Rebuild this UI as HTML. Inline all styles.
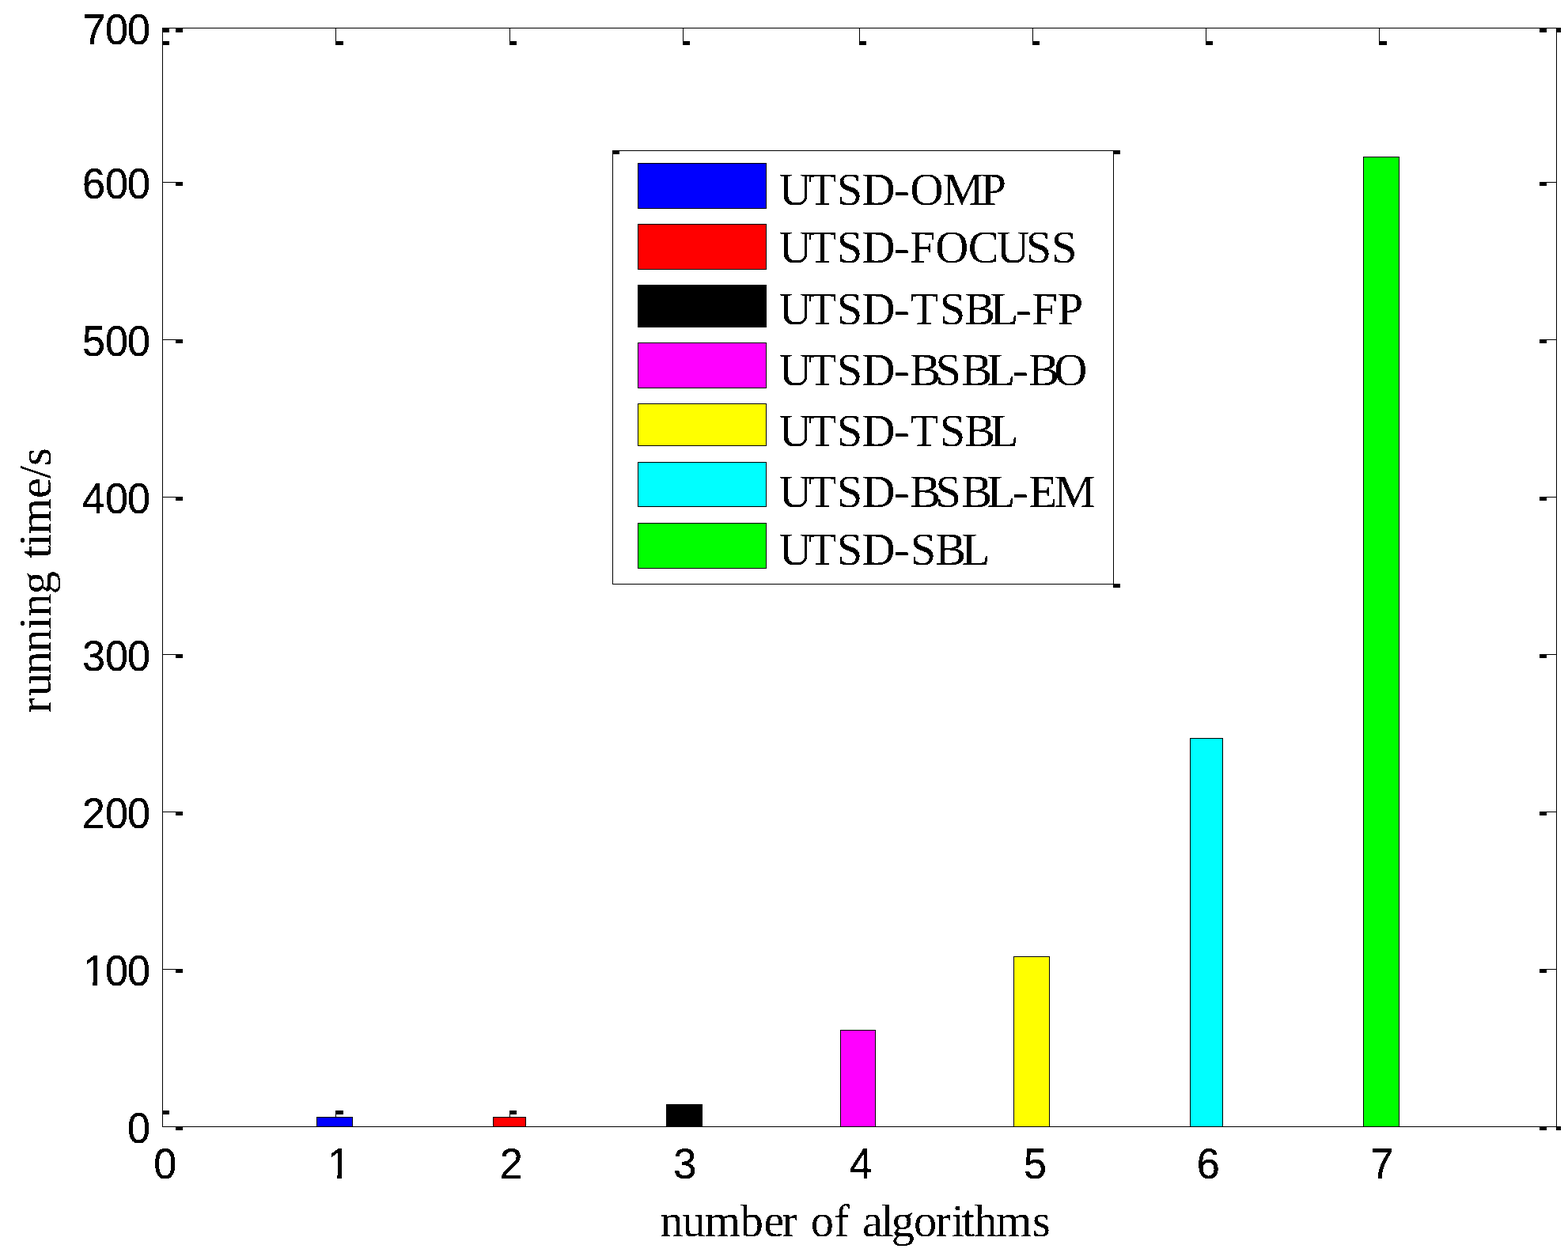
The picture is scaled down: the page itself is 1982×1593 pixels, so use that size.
<!DOCTYPE html>
<html lang="en">
<head>
<meta charset="utf-8">
<title>Running time of UTSD algorithms</title>
<style>
html, body { margin: 0; padding: 0; background: #ffffff; }
body { width: 1982px; height: 1593px; overflow: hidden; }
svg { display: block; }
svg rect { shape-rendering: crispEdges; }
svg text { white-space: pre; text-rendering: geometricPrecision; font-kerning: none; font-variant-ligatures: none; }
svg text.sans { font-family: 'Liberation Sans', Arial, Helvetica, sans-serif; stroke: #000; stroke-width: 0.3px; }
svg text.serif { font-family: 'Liberation Serif', 'Times New Roman', Times, serif; }
</style>
</head>
<body>
<svg width="1982" height="1593" viewBox="0 0 1982 1593" role="img" aria-label="Bar chart: running time in seconds versus number of algorithms">
<defs>
<filter id="crisp" x="0" y="0" width="1982" height="1593" filterUnits="userSpaceOnUse" color-interpolation-filters="sRGB">
<feComponentTransfer><feFuncA type="discrete" tableValues="0 1"/></feComponentTransfer>
</filter>
<clipPath id="clip1" clipPathUnits="userSpaceOnUse"><polygon points="90.00,18.00 200.00,18.00 200.00,56.00 90.00,56.00"/></clipPath>
<clipPath id="clip2" clipPathUnits="userSpaceOnUse"><polygon points="90.00,213.00 200.00,213.00 200.00,251.00 90.00,251.00"/></clipPath>
<clipPath id="clip3" clipPathUnits="userSpaceOnUse"><polygon points="90.00,412.00 200.00,412.00 200.00,450.00 90.00,450.00"/></clipPath>
<clipPath id="clip4" clipPathUnits="userSpaceOnUse"><polygon points="90.00,611.00 200.00,611.00 200.00,649.00 90.00,649.00"/></clipPath>
<clipPath id="clip5" clipPathUnits="userSpaceOnUse"><polygon points="90.00,810.00 200.00,810.00 200.00,848.00 90.00,848.00"/></clipPath>
<clipPath id="clip6" clipPathUnits="userSpaceOnUse"><polygon points="90.00,1009.00 200.00,1009.00 200.00,1047.00 90.00,1047.00"/></clipPath>
<clipPath id="clip7" clipPathUnits="userSpaceOnUse"><polygon points="100.95,1208.00 200.00,1208.00 200.00,1246.00 133.47,1246.00 133.47,1208.01 123.26,1208.01 123.26,1246.00 117.37,1246.00 117.37,1241.56 100.95,1241.56"/></clipPath>
<clipPath id="clip8" clipPathUnits="userSpaceOnUse"><polygon points="90.00,1407.00 200.00,1407.00 200.00,1445.00 90.00,1445.00"/></clipPath>
<clipPath id="clip9" clipPathUnits="userSpaceOnUse"><polygon points="175.00,1452.00 245.00,1452.00 245.00,1490.00 175.00,1490.00"/></clipPath>
<clipPath id="clip10" clipPathUnits="userSpaceOnUse"><polygon points="409.95,1452.00 432.26,1452.00 432.26,1490.00 426.37,1490.00 426.37,1485.56 409.95,1485.56"/></clipPath>
<clipPath id="clip11" clipPathUnits="userSpaceOnUse"><polygon points="614.00,1452.00 684.00,1452.00 684.00,1490.00 614.00,1490.00"/></clipPath>
<clipPath id="clip12" clipPathUnits="userSpaceOnUse"><polygon points="833.00,1452.00 903.00,1452.00 903.00,1490.00 833.00,1490.00"/></clipPath>
<clipPath id="clip13" clipPathUnits="userSpaceOnUse"><polygon points="1056.00,1452.00 1126.00,1452.00 1126.00,1490.00 1056.00,1490.00"/></clipPath>
<clipPath id="clip14" clipPathUnits="userSpaceOnUse"><polygon points="1275.00,1452.00 1345.00,1452.00 1345.00,1490.00 1275.00,1490.00"/></clipPath>
<clipPath id="clip15" clipPathUnits="userSpaceOnUse"><polygon points="1494.00,1452.00 1564.00,1452.00 1564.00,1490.00 1494.00,1490.00"/></clipPath>
<clipPath id="clip16" clipPathUnits="userSpaceOnUse"><polygon points="1713.00,1452.00 1783.00,1452.00 1783.00,1490.00 1713.00,1490.00"/></clipPath>
</defs>
<rect x="0" y="0" width="1982" height="1593" fill="#ffffff"/>
<g id="ticks">
<rect x="424" y="35" width="1" height="17" fill="#000"/>
<rect x="424" y="52" width="10" height="5" fill="#000"/>
<rect x="424" y="1409" width="1" height="16" fill="#000"/>
<rect x="424" y="1404" width="10" height="5" fill="#000"/>
<rect x="644" y="35" width="1" height="17" fill="#000"/>
<rect x="644" y="52" width="9" height="5" fill="#000"/>
<rect x="644" y="1409" width="1" height="16" fill="#000"/>
<rect x="644" y="1404" width="9" height="5" fill="#000"/>
<rect x="863" y="35" width="1" height="17" fill="#000"/>
<rect x="863" y="52" width="9" height="5" fill="#000"/>
<rect x="863" y="1409" width="1" height="16" fill="#000"/>
<rect x="863" y="1404" width="9" height="5" fill="#000"/>
<rect x="1086" y="35" width="1" height="17" fill="#000"/>
<rect x="1086" y="52" width="9" height="5" fill="#000"/>
<rect x="1086" y="1409" width="1" height="16" fill="#000"/>
<rect x="1086" y="1404" width="9" height="5" fill="#000"/>
<rect x="1305" y="35" width="1" height="17" fill="#000"/>
<rect x="1305" y="52" width="9" height="5" fill="#000"/>
<rect x="1305" y="1409" width="1" height="16" fill="#000"/>
<rect x="1305" y="1404" width="9" height="5" fill="#000"/>
<rect x="1524" y="35" width="1" height="17" fill="#000"/>
<rect x="1524" y="52" width="9" height="5" fill="#000"/>
<rect x="1524" y="1409" width="1" height="16" fill="#000"/>
<rect x="1524" y="1404" width="9" height="5" fill="#000"/>
<rect x="1743" y="35" width="1" height="17" fill="#000"/>
<rect x="1743" y="52" width="10" height="5" fill="#000"/>
<rect x="1743" y="1409" width="1" height="16" fill="#000"/>
<rect x="1743" y="1404" width="10" height="5" fill="#000"/>
<rect x="205" y="230" width="17" height="1" fill="#000"/>
<rect x="222" y="230" width="9" height="5" fill="#000"/>
<rect x="1955" y="230" width="13" height="1" fill="#000"/>
<rect x="1946" y="230" width="9" height="5" fill="#000"/>
<rect x="205" y="429" width="17" height="1" fill="#000"/>
<rect x="222" y="429" width="9" height="5" fill="#000"/>
<rect x="1955" y="429" width="13" height="1" fill="#000"/>
<rect x="1946" y="429" width="9" height="5" fill="#000"/>
<rect x="205" y="628" width="17" height="1" fill="#000"/>
<rect x="222" y="628" width="9" height="5" fill="#000"/>
<rect x="1955" y="628" width="13" height="1" fill="#000"/>
<rect x="1946" y="628" width="9" height="5" fill="#000"/>
<rect x="205" y="827" width="17" height="1" fill="#000"/>
<rect x="222" y="827" width="9" height="5" fill="#000"/>
<rect x="1955" y="827" width="13" height="1" fill="#000"/>
<rect x="1946" y="827" width="9" height="5" fill="#000"/>
<rect x="205" y="1026" width="17" height="1" fill="#000"/>
<rect x="222" y="1026" width="9" height="5" fill="#000"/>
<rect x="1955" y="1026" width="13" height="1" fill="#000"/>
<rect x="1946" y="1026" width="9" height="5" fill="#000"/>
<rect x="205" y="1225" width="17" height="1" fill="#000"/>
<rect x="222" y="1225" width="9" height="5" fill="#000"/>
<rect x="1955" y="1225" width="13" height="1" fill="#000"/>
<rect x="1946" y="1225" width="9" height="5" fill="#000"/>
<rect x="205" y="35" width="9" height="6" fill="#000"/>
<rect x="222" y="35" width="9" height="6" fill="#000"/>
<rect x="205" y="52" width="9" height="5" fill="#000"/>
<rect x="1946" y="35" width="9" height="6" fill="#000"/>
<rect x="1967" y="35" width="6" height="6" fill="#000"/>
<rect x="205" y="1404" width="9" height="5" fill="#000"/>
<rect x="222" y="1424" width="9" height="5" fill="#000"/>
<rect x="1946" y="1424" width="9" height="5" fill="#000"/>
<rect x="1967" y="1424" width="6" height="5" fill="#000"/>
</g>
<g id="bars">
<rect x="400" y="1412" width="46" height="13" fill="#000"/>
<rect x="401" y="1413" width="44" height="11" fill="#0000ff"/>
<rect x="623" y="1412" width="42" height="13" fill="#000"/>
<rect x="624" y="1413" width="40" height="11" fill="#ff0000"/>
<rect x="842" y="1396" width="46" height="29" fill="#000"/>
<rect x="843" y="1397" width="44" height="27" fill="#000000"/>
<rect x="1062" y="1302" width="45" height="123" fill="#000"/>
<rect x="1063" y="1303" width="43" height="121" fill="#ff00ff"/>
<rect x="1281" y="1209" width="46" height="216" fill="#000"/>
<rect x="1282" y="1210" width="44" height="214" fill="#ffff00"/>
<rect x="1504" y="933" width="42" height="492" fill="#000"/>
<rect x="1505" y="934" width="40" height="490" fill="#00ffff"/>
<rect x="1723" y="198" width="46" height="1227" fill="#000"/>
<rect x="1724" y="199" width="44" height="1225" fill="#00ff00"/>
</g>
<g id="axes">
<rect x="205" y="35" width="1768" height="1" fill="#000"/>
<rect x="205" y="1424" width="1768" height="1" fill="#000"/>
<rect x="205" y="35" width="1" height="1390" fill="#000"/>
<rect x="1967" y="35" width="1" height="1390" fill="#000"/>
</g>
<g id="legend">
<rect x="774" y="190" width="634" height="549" fill="#fff"/>
<rect x="774" y="190" width="634" height="1" fill="#000"/>
<rect x="774" y="738" width="634" height="1" fill="#000"/>
<rect x="774" y="190" width="1" height="549" fill="#000"/>
<rect x="1407" y="190" width="1" height="549" fill="#000"/>
<rect x="774" y="190" width="9" height="5" fill="#000"/>
<rect x="1407" y="190" width="9" height="5" fill="#000"/>
<rect x="1407" y="738" width="9" height="5" fill="#000"/>
<rect x="806" y="206" width="163" height="58" fill="#000"/>
<rect x="807" y="207" width="161" height="56" fill="#0000ff"/>
<rect x="806" y="283" width="163" height="58" fill="#000"/>
<rect x="807" y="284" width="161" height="56" fill="#ff0000"/>
<rect x="806" y="360" width="163" height="54" fill="#000"/>
<rect x="807" y="361" width="161" height="52" fill="#000000"/>
<rect x="806" y="433" width="163" height="58" fill="#000"/>
<rect x="807" y="434" width="161" height="56" fill="#ff00ff"/>
<rect x="806" y="510" width="163" height="54" fill="#000"/>
<rect x="807" y="511" width="161" height="52" fill="#ffff00"/>
<rect x="806" y="584" width="163" height="57" fill="#000"/>
<rect x="807" y="585" width="161" height="55" fill="#00ffff"/>
<rect x="806" y="661" width="163" height="58" fill="#000"/>
<rect x="807" y="662" width="161" height="56" fill="#00ff00"/>
</g>
<g id="labels" fill="#000" filter="url(#crisp)">
<text class="serif" x="984.50 1021.85 1057.65 1089.38 1130.26 1150.40 1191.65 1239.62" y="259" font-size="58.3">UTSD-OMP</text>
<text class="serif" x="984.50 1021.85 1057.65 1089.38 1130.26 1150.00 1182.35 1223.82 1259.50 1296.65 1328.90" y="332" font-size="58.3">UTSD-FOCUSS</text>
<text class="serif" x="984.50 1021.85 1057.65 1089.38 1130.26 1150.60 1187.65 1219.14 1251.65 1284.21 1304.20 1336.72" y="410" font-size="58.3">UTSD-TSBL-FP</text>
<text class="serif" x="984.50 1021.85 1057.65 1089.38 1130.26 1150.14 1182.60 1215.19 1247.70 1280.26 1300.14 1332.25" y="487" font-size="58.3">UTSD-BSBL-BO</text>
<text class="serif" x="984.50 1021.85 1057.65 1089.38 1130.26 1150.60 1187.65 1219.14 1251.65" y="564" font-size="58.3">UTSD-TSBL</text>
<text class="serif" x="984.50 1021.85 1057.65 1089.38 1130.26 1150.14 1182.60 1215.19 1247.70 1280.26 1300.81 1332.65" y="641" font-size="58.3">UTSD-BSBL-EM</text>
<text class="serif" x="984.50 1021.85 1057.65 1089.38 1130.26 1150.75 1182.29 1215.70" y="714" font-size="58.3">UTSD-SBL</text>
<text class="serif" x="834.20 862.54 890.82 935.64 965.43 988.62 1009.00 1024.72 1054.36 1074.50 1089.89 1113.70 1126.70 1154.92 1182.57 1202.64 1215.74 1231.32 1259.02 1305.11" y="1563" font-size="58.3">number of algorithms</text>
<text class="serif" transform="rotate(-90)" x="-901.63 -880.16 -852.40 -824.70 -795.76 -779.80 -751.32 -721.00 -706.11 -690.86 -675.28 -630.02 -605.00 -588.94" y="64.0" font-size="58.3">running time/s</text>
<g clip-path="url(#clip1)"><text class="sans" transform="scale(0.954,1)" x="109.53 139.38 168.78" y="56" font-size="54.6">700</text></g>
<g clip-path="url(#clip2)"><text class="sans" transform="scale(0.954,1)" x="108.95 139.38 168.78" y="251" font-size="54.6">600</text></g>
<g clip-path="url(#clip3)"><text class="sans" transform="scale(0.954,1)" x="109.04 139.38 168.78" y="450" font-size="54.6">500</text></g>
<g clip-path="url(#clip4)"><text class="sans" transform="scale(0.954,1)" x="108.68 139.38 168.78" y="649" font-size="54.6">400</text></g>
<g clip-path="url(#clip5)"><text class="sans" transform="scale(0.954,1)" x="108.98 139.38 168.78" y="848" font-size="54.6">300</text></g>
<g clip-path="url(#clip6)"><text class="sans" transform="scale(0.954,1)" x="108.72 139.38 168.78" y="1047" font-size="54.6">200</text></g>
<g clip-path="url(#clip7)"><text class="sans" transform="scale(0.954,1)" x="110.01 139.38 168.78" y="1246" font-size="54.6">100</text></g>
<g clip-path="url(#clip8)"><text class="sans" transform="scale(0.954,1)" x="168.78" y="1445" font-size="54.6">0</text></g>
<g clip-path="url(#clip9)"><text class="sans" transform="scale(0.954,1)" x="203.69" y="1490" font-size="54.6">0</text></g>
<g clip-path="url(#clip10)"><text class="sans" transform="scale(0.954,1)" x="433.91" y="1490" font-size="54.6">1</text></g>
<g clip-path="url(#clip11)"><text class="sans" transform="scale(0.954,1)" x="662.29" y="1490" font-size="54.6">2</text></g>
<g clip-path="url(#clip12)"><text class="sans" transform="scale(0.954,1)" x="892.26" y="1490" font-size="54.6">3</text></g>
<g clip-path="url(#clip13)"><text class="sans" transform="scale(0.954,1)" x="1125.56" y="1490" font-size="54.6">4</text></g>
<g clip-path="url(#clip14)"><text class="sans" transform="scale(0.954,1)" x="1356.36" y="1490" font-size="54.6">5</text></g>
<g clip-path="url(#clip15)"><text class="sans" transform="scale(0.954,1)" x="1585.68" y="1490" font-size="54.6">6</text></g>
<g clip-path="url(#clip16)"><text class="sans" transform="scale(0.954,1)" x="1816.03" y="1490" font-size="54.6">7</text></g>
</g>
</svg>
</body>
</html>
